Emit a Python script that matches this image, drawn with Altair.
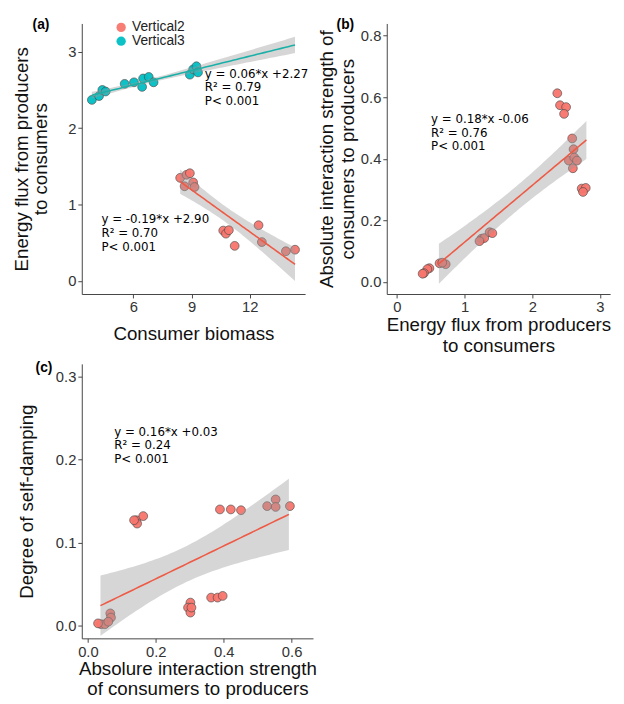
import numpy as np
import pandas as pd
import altair as alt

# ---------------- data ----------------
# Panel (a): consumer biomass vs energy flux
v2_x = [8.41, 8.74, 8.91, 8.64, 9.08, 9.15, 10.63, 10.77, 10.92, 11.22, 12.45, 12.62, 13.86, 14.33]
v2_y = [1.35, 1.39, 1.41, 1.24, 1.29, 1.23, 0.66, 0.62, 0.665, 0.46, 0.73, 0.51, 0.39, 0.41]
v3_x = [3.86, 4.23, 4.40, 4.57, 5.55, 6.03, 6.45, 6.50, 6.79, 7.04, 8.91, 9.08, 9.25, 9.33]
v3_y = [2.37, 2.42, 2.50, 2.48, 2.58, 2.60, 2.54, 2.65, 2.67, 2.60, 2.70, 2.77, 2.81, 2.73]
series_names = ["Vertical2", "Vertical3"]
fit_range_v2 = [8.41, 14.33]
fit_range_v3 = [3.86, 14.33]

# Panel (b): energy flux vs absolute interaction strength
b_x = [2.37, 2.41, 2.50, 2.47, 2.59, 2.61, 2.54, 2.62, 2.66, 2.60, 2.73, 2.79, 2.75,
       1.25, 1.29, 1.37, 1.41, 1.22, 0.63, 0.72, 0.67, 0.48, 0.45, 0.40, 0.38]
b_y = [0.613, 0.574, 0.568, 0.546, 0.466, 0.431, 0.394, 0.404, 0.394, 0.369, 0.303, 0.305, 0.292,
       0.140, 0.142, 0.161, 0.158, 0.132, 0.060, 0.057, 0.062, 0.044, 0.041, 0.028, 0.026]
fit_range_b = [0.62, 2.80]

# Panel (c): interaction strength vs self-damping
c_x = [0.143, 0.163, 0.145, 0.136, 0.389, 0.421, 0.451, 0.528, 0.553, 0.553, 0.595,
       0.039, 0.050, 0.066, 0.068, 0.060, 0.030, 0.302, 0.295, 0.302, 0.305, 0.363, 0.382, 0.397]
c_y = [0.127, 0.132, 0.123, 0.127, 0.140, 0.140, 0.139, 0.144, 0.152, 0.143, 0.144,
       0.002, 0.002, 0.015, 0.010, 0.005, 0.003, 0.028, 0.022, 0.016, 0.022, 0.034, 0.034, 0.036]
fit_range_c = [0.037, 0.592]

annot_a3 = "y = 0.06*x +2.27\nR² = 0.79\nP< 0.001"
annot_a2 = "y = -0.19*x +2.90\nR² = 0.70\nP< 0.001"
annot_b = "y = 0.18*x -0.06\nR² = 0.76\nP< 0.001"
annot_c = "y = 0.16*x +0.03\nR² = 0.24\nP< 0.001"

# ---------------- styling ----------------
RED = "#F8766D"
TEAL = "#00BFC4"
RED_LINE = "#EE5A45"
TEAL_LINE = "#1AB0A8"
PT_STROKE = "#4a4a4a"
PT_SIZE = 80
TEXT_FONT = "DejaVu Sans"
AX_FONT = "Liberation Sans"


def fit_band(x, y, rng, t=2.07, n=60):
    x = np.asarray(x, float)
    y = np.asarray(y, float)
    b1, b0 = np.polyfit(x, y, 1)
    xs = np.linspace(rng[0], rng[1], n)
    yhat = b0 + b1 * xs
    resid = y - (b0 + b1 * x)
    s = np.sqrt(np.sum(resid ** 2) / (len(x) - 2))
    sxx = np.sum((x - x.mean()) ** 2)
    se = s * np.sqrt(1.0 / len(x) + (xs - x.mean()) ** 2 / sxx)
    return pd.DataFrame({"x": xs, "fit": yhat, "lo": yhat - t * se, "hi": yhat + t * se})


def text_layer(txt, px, py, size=12, bold=False, font=TEXT_FONT):
    return alt.Chart(pd.DataFrame({"t": [txt]})).mark_text(
        align="left", baseline="top", lineBreak="\n", lineHeight=14,
        font=font, fontSize=size, fontWeight="bold" if bold else "normal", color="black",
    ).encode(text="t:N", x=alt.value(px), y=alt.value(py))


def band_layers(df, xsc, ysc, line_color):
    band = alt.Chart(df).mark_area(color="#999999", opacity=0.4, clip=True).encode(
        x=alt.X("x:Q", scale=xsc), y=alt.Y("lo:Q", scale=ysc), y2="hi:Q")
    line = alt.Chart(df).mark_line(color=line_color, strokeWidth=1.6, clip=True).encode(
        x=alt.X("x:Q", scale=xsc), y=alt.Y("fit:Q", scale=ysc))
    return band, line


def axis(values, fmt, title, tpad, lh=21):
    return alt.Axis(values=values, format=fmt, title=title, titlePadding=tpad, titleLineHeight=lh)


# ---------------- panel (a) ----------------
xs_a = alt.Scale(domain=[3.34, 14.85], nice=False, zero=False)
ys_a = alt.Scale(domain=[-0.17, 3.37], nice=False, zero=False)
pts_a = pd.DataFrame({
    "x": v2_x + v3_x,
    "y": v2_y + v3_y,
    "s": [series_names[0]] * len(v2_x) + [series_names[1]] * len(v3_x),
})
points_a = alt.Chart(pts_a).mark_circle(size=PT_SIZE, stroke=PT_STROKE, strokeWidth=0.7, opacity=0.95).encode(
    x=alt.X("x:Q", scale=xs_a, axis=axis([6, 9, 12], "d", "Consumer biomass", 10)),
    y=alt.Y("y:Q", scale=ys_a, axis=axis([0, 1, 2, 3], "d", ["Energy flux from producers", "to consumers"], 18, 19)),
    fill=alt.Fill("s:N", scale=alt.Scale(domain=series_names, range=[RED, TEAL]),
                  legend=alt.Legend(title=None, orient="none", legendX=33, legendY=-3,
                                    labelFontSize=14, labelFont=AX_FONT, symbolType="circle",
                                    symbolSize=90, symbolStrokeWidth=0, rowPadding=-3, padding=0,
                                    labelColor="#222")),
)
band_v2, line_v2 = band_layers(fit_band(v2_x, v2_y, fit_range_v2), xs_a, ys_a, RED_LINE)
band_v3, line_v3 = band_layers(fit_band(v3_x, v3_y, fit_range_v3), xs_a, ys_a, TEAL_LINE)
panel_a = alt.layer(
    points_a, band_v2, band_v3, line_v2, line_v3,
    text_layer(annot_a3, 125, 46),
    text_layer(annot_a2, 20, 194),
    text_layer("(a)", -50, -5, size=14, bold=True, font=AX_FONT),
).resolve_scale(fill="independent").properties(width=227, height=275)

# ---------------- panel (b) ----------------
xs_b = alt.Scale(domain=[-0.15, 3.15], nice=False, zero=False)
ys_b = alt.Scale(domain=[-0.04, 0.84], nice=False, zero=False)
points_b = alt.Chart(pd.DataFrame({"x": b_x, "y": b_y})).mark_circle(
    size=PT_SIZE, color=RED, stroke=PT_STROKE, strokeWidth=0.7, opacity=0.95).encode(
    x=alt.X("x:Q", scale=xs_b, axis=axis([0, 1, 2, 3], "d", ["Energy flux from producers", "to consumers"], 1)),
    y=alt.Y("y:Q", scale=ys_b, axis=axis([0, 0.2, 0.4, 0.6, 0.8], ".1f",
                                         ["Absolute interaction strength of", "consumers to producers"], 3)),
)
band_b, line_b = band_layers(fit_band(b_x, b_y, fit_range_b), xs_b, ys_b, RED_LINE)
panel_b = alt.layer(
    points_b, band_b, line_b,
    text_layer(annot_b, 45, 92),
    text_layer("(b)", -51, -5, size=14, bold=True, font=AX_FONT),
).properties(width=227, height=275)

# ---------------- panel (c) ----------------
xs_c = alt.Scale(domain=[-0.018, 0.663], nice=False, zero=False)
ys_c = alt.Scale(domain=[-0.015, 0.315], nice=False, zero=False)
points_c = alt.Chart(pd.DataFrame({"x": c_x, "y": c_y})).mark_circle(
    size=PT_SIZE, color=RED, stroke=PT_STROKE, strokeWidth=0.7, opacity=0.95).encode(
    x=alt.X("x:Q", scale=xs_c, axis=axis([0, 0.2, 0.4, 0.6], ".1f",
                                         ["Absolure interaction strength", "of consumers to producers"], 1, 20)),
    y=alt.Y("y:Q", scale=ys_c, axis=axis([0, 0.1, 0.2, 0.3], ".1f", "Degree of self-damping", 19)),
)
band_c, line_c = band_layers(fit_band(c_x, c_y, fit_range_c), xs_c, ys_c, RED_LINE)
panel_c = alt.layer(
    points_c, band_c, line_c,
    text_layer(annot_c, 33, 64),
    text_layer("(c)", -47, -3, size=14, bold=True, font=AX_FONT),
).properties(width=235, height=279)

top = alt.hconcat(panel_a, panel_b, spacing=9)
chart = alt.vconcat(top, panel_c, spacing=6).properties(
    padding={"left": 4, "top": 5, "right": 5, "bottom": 0}
).configure_view(stroke=None).configure_axis(
    grid=False,
    labelFont=AX_FONT, labelFontSize=15, labelColor="#333333", labelPadding=2,
    titleFont=AX_FONT, titleFontSize=19, titleFontWeight="normal", titleColor="#111111",
    domainColor="#444444", domainWidth=1, tickColor="#444444", tickSize=4,
)

chart.save("out.html", embed_options={"renderer": "svg", "actions": False})
